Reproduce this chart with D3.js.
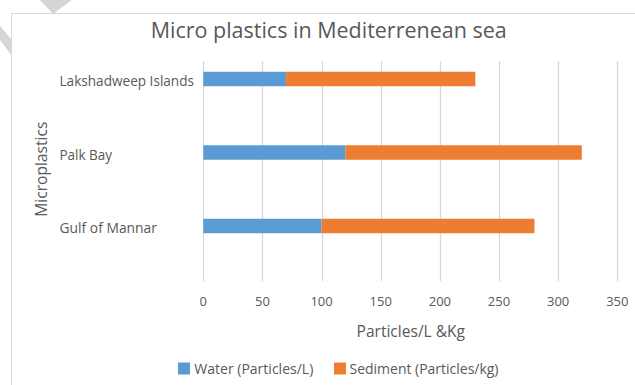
<!DOCTYPE html>
<html>
<head>
<meta charset="utf-8">
<script src="https://cdn.jsdelivr.net/npm/d3@7"></script>
<style>
  html, body { margin: 0; padding: 0; background: #ffffff; }
  svg { display: block; }
  text { font-family: "Open Sans", "Noto Sans", sans-serif; fill: #595959; }
</style>
</head>
<body>
<svg id="chart" width="635" height="385"></svg>
<script>
// ---- data ----
const categories = ["Lakshadweep Islands", "Palk Bay", "Gulf of Mannar"];
const water = [70, 120, 100];       // Water (Particles/L)
const sediment = [160, 200, 180];   // Sediment (Particles/kg)
const seriesNames = ["Water (Particles/L)", "Sediment (Particles/kg)"];
const xTicks = [0, 50, 100, 150, 200, 250, 300, 350];
const titleText = "Micro plastics in Mediterrenean sea";
const xTitle = "Particles/L &Kg";
const yTitle = "Microplastics";

// ---- layout / style ----
const W = 635, H = 385;
const colors = ["#5b9bd5", "#ed7d31"];
const gridColor = "#d9d9d9";
const svg = d3.select("#chart");

function label(g, txt, x, y, size, anchor, width, extra) {
  const t = g.append("text")
    .attr("x", x).attr("y", y)
    .attr("font-size", size)
    .attr("text-anchor", anchor)
    .text(txt);
  if (width) t.attr("textLength", width).attr("lengthAdjust", "spacingAndGlyphs");
  if (extra) extra(t);
  return t;
}

// background decoration (partially hidden behind chart frame)
svg.append("rect").attr("width", W).attr("height", H).attr("fill", "#ffffff");
svg.append("polygon").attr("points", "40,0 72,0 53,14").attr("fill", "#d6d6d6");
svg.append("polygon").attr("points", "0,26 12,40 12,56 0,40").attr("fill", "#d6d6d6");

// chart frame
svg.append("rect")
  .attr("x", 11.5).attr("y", 13.5)
  .attr("width", W + 10).attr("height", H + 10)
  .attr("fill", "#ffffff").attr("stroke", gridColor).attr("stroke-width", 1);

// scales
const x = d3.scaleLinear().domain([0, 350]).range([203.3, 617.3]);
const y = d3.scaleBand().domain(categories).range([42.25, 262.75])
  .paddingInner(0.803).paddingOuter(0.4015);
const gridTop = 61, gridBottom = 281;

// gridlines
svg.append("g").selectAll("line").data(xTicks).join("line")
  .attr("x1", d => Math.round(x(d)) + 0.5).attr("x2", d => Math.round(x(d)) + 0.5)
  .attr("y1", gridTop).attr("y2", gridBottom)
  .attr("stroke", gridColor).attr("stroke-width", 1.3);

// stacked bars
const rows = categories.map((c, i) => ({ cat: c, water: water[i], sediment: sediment[i] }));
const stack = d3.stack().keys(["water", "sediment"])(rows);
svg.append("g").selectAll("g").data(stack).join("g")
  .attr("fill", (d, i) => colors[i])
  .selectAll("rect").data(d => d).join("rect")
  .attr("x", d => x(d[0]))
  .attr("width", d => x(d[1]) - x(d[0]))
  .attr("y", d => y(d.data.cat))
  .attr("height", y.bandwidth());

// category labels (left aligned)
const catG = svg.append("g");
const catWidths = { "Lakshadweep Islands": 134.5, "Palk Bay": 52.5, "Gulf of Mannar": 97.5 };
categories.forEach(c => {
  label(catG, c, 59.5, y(c) + y.bandwidth() / 2 + 7, 14.5, "start", catWidths[c]);
});

// x tick labels
const tickG = svg.append("g");
xTicks.forEach(t => {
  label(tickG, String(t), x(t), 306, 13, "middle", null);
});

// title
label(svg, titleText, 328.7, 38.3, 22.5, "middle", 356);

// axis titles
label(svg, xTitle, 410.8, 336.7, 17, "middle", 108.5);
label(svg, yTitle, 0, 0, 16.5, "middle", 95, t =>
  t.attr("transform", "translate(46.5,169.2) rotate(-90)"));

// legend
const legend = svg.append("g");
const legendItems = [
  { sx: 178, tx: 194.3, w: 119 },
  { sx: 334, tx: 349.5, w: 149 }
];
seriesNames.forEach((name, i) => {
  legend.append("rect")
    .attr("x", legendItems[i].sx).attr("y", 362.5)
    .attr("width", 12).attr("height", 12)
    .attr("fill", colors[i]);
  label(legend, name, legendItems[i].tx, 374.3, 14.5, "start", legendItems[i].w);
});
</script>
</body>
</html>
